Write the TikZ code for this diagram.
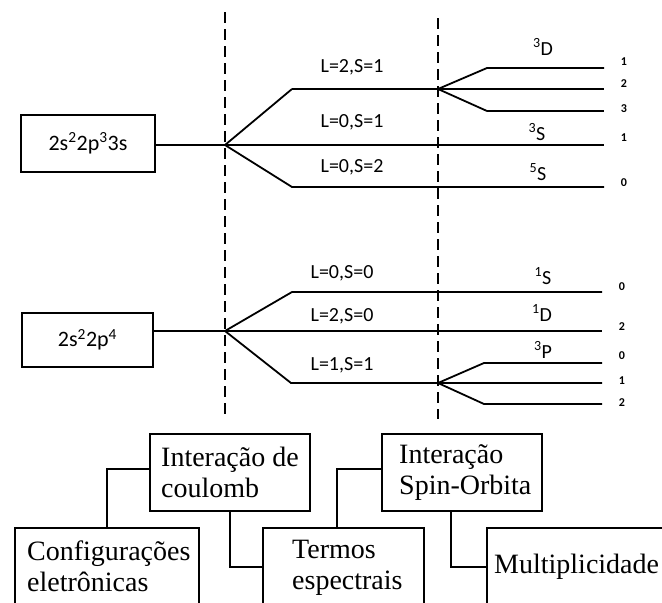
\documentclass[tikz,border=0pt]{standalone}
\usepackage{fontspec}
\setmainfont{Liberation Serif}
\newfontfamily\lblfont{Carlito}
\begin{document}
\begin{tikzpicture}[x=1pt,y=-1pt,
  level/.style={line width=1.8pt},
  heavy/.style={line width=2.8pt},
  guide/.style={line width=2.5pt, dash pattern=on 11pt off 6pt},
  cfgbox/.style={draw, line width=2.4pt, inner sep=0pt},
  lterm/.style={font=\lblfont\fontsize{20}{22}\selectfont, inner sep=0pt},
  sterm/.style={font=\lblfont\fontsize{20}{22}\selectfont, inner sep=0pt},
  jval/.style={font=\lblfont\bfseries\fontsize{12}{13}\selectfont, inner sep=0pt},
  infobox/.style={draw, line width=2.2pt, inner sep=0pt, minimum height=78pt},
  infotext/.style={font=\fontsize{28}{31}\selectfont, align=left, inner sep=0pt, anchor=west},
  link/.style={line width=1.6pt}]
\useasboundingbox (0,0) rectangle (662,603);
\clip (0,0) rectangle (662,603);

% dashed separators between the three stages
\coordinate (d1t) at (225,12);
\coordinate (d1b) at (225,419);
\coordinate (d2t) at (438,18);
\coordinate (d2b) at (438,419);
\draw[guide] (d1t) -- (d1b);
\draw[guide] (d2t) -- (d2b);

% electronic configurations
\node[cfgbox, minimum width=134pt, minimum height=57pt,
      font=\lblfont\fontsize{22}{24}\selectfont] (cfgA) at (88,143.5)
      {2s\textsuperscript{2}2p\textsuperscript{3}3s};
\node[cfgbox, minimum width=131pt, minimum height=54pt,
      font=\lblfont\fontsize{22}{24}\selectfont] (cfgB) at (87.5,340)
      {2s\textsuperscript{2}2p\textsuperscript{4}};

% splitting points
\coordinate (c1) at (225,145);
\coordinate (c2) at (225,331);
\coordinate (s1) at (438,89);
\coordinate (s2) at (438,383);

% upper configuration: 2s2 2p3 3s
\coordinate (a1) at (292,89);
\coordinate (a2) at (292,187);
\coordinate (e21) at (604,89);
\coordinate (e01) at (604,145);
\coordinate (e02) at (604,187);
\coordinate (sa) at (487,68);
\coordinate (sb) at (487,111);
\coordinate (ea) at (604,68);
\coordinate (eb) at (604,111);
\draw[level] (c1 -| cfgA.east) -- (c1);
\draw[level] (c1) -- (a1);
\draw[heavy] (a1) -- (s1) -- (e21);
\draw[level] (c1) -- (e01);
\draw[level] (c1) -- (a2) -- (e02);
\draw[level] (s1) -- (sa) -- (ea);
\draw[level] (s1) -- (sb);
\draw[heavy] (sb) -- (eb);

\node[lterm] (l21) at (352,67) {L=2,S=1};
\node[lterm] (l01) at (352,122) {L=0,S=1};
\node[lterm] (l02) at (352,167) {L=0,S=2};
\node[sterm] (t3D) at (543,47) {\textsuperscript{3}D};
\node[sterm] (t3S) at (537,132) {\textsuperscript{3}S};
\node[sterm] (t5S) at (538,172) {\textsuperscript{5}S};
\node[jval] (ja) at (624,62) {1};
\node[jval] (jb) at (624,84) {2};
\node[jval] (jc) at (624,109) {3};
\node[jval] (jd) at (624,138) {1};
\node[jval] (je) at (624,183) {0};

% lower configuration: 2s2 2p4
\coordinate (b1) at (292,292);
\coordinate (b2) at (291,383);
\coordinate (f00) at (602,292);
\coordinate (f20) at (602,331);
\coordinate (f11) at (602,383);
\coordinate (sc) at (484,363);
\coordinate (sd) at (484,404);
\coordinate (fc) at (602,363);
\coordinate (fd) at (602,404);
\draw[level] (c2 -| cfgB.east) -- (c2);
\draw[level] (c2) -- (b1) -- (f00);
\draw[level] (c2) -- (f20);
\draw[level] (c2) -- (b2) -- (s2) -- (f11);
\draw[level] (s2) -- (sc) -- (fc);
\draw[level] (s2) -- (sd) -- (fd);

\node[lterm] (l00) at (342,273) {L=0,S=0};
\node[lterm] (l20) at (342,316) {L=2,S=0};
\node[lterm] (l11) at (342,365) {L=1,S=1};
\node[sterm] (t1S) at (543,276) {\textsuperscript{1}S};
\node[sterm] (t1D) at (542,313) {\textsuperscript{1}D};
\node[sterm] (t3P) at (543,350) {\textsuperscript{3}P};
\node[jval] (jf) at (622,287) {0};
\node[jval] (jg) at (622,327) {2};
\node[jval] (jh) at (622,356) {0};
\node[jval] (ji) at (622,381) {1};
\node[jval] (jj) at (622,403) {2};

% legend boxes
\node[infobox, minimum width=160pt, minimum height=77pt] (coul) at (230,472.5) {};
\node[infotext] (coultxt) at (161,472.5) {Interação de\\coulomb};
\node[infobox, minimum width=160pt, minimum height=77pt] (spin) at (462,472.5) {};
\node[infotext] (spintxt) at (399,472.5) {Interação\\Spin-Orbita};
\node[infobox, minimum width=184pt] (conf) at (107,567) {};
\node[infotext] (conftxt) at (27,566) {Configurações\\eletrônicas};
\node[infobox, minimum width=161pt] (term) at (343.5,567) {};
\node[infotext] (termtxt) at (292,567.5) {Termos\\espectrais};
\node[infobox, minimum width=193pt] (mult) at (583.5,567) {};
\node[infotext] (multtxt) at (494,567) {Multiplicidade};

% legend connectors
\draw[link] ([yshift=3.5pt]coul.west) -| (conf.north);
\draw[link] (coul.south) |- (term.west);
\draw[link] ([yshift=3.5pt]spin.west) -| ([xshift=-6.5pt]term.north);
\draw[heavy] ([xshift=-11pt]spin.south) |- (mult.west);
\end{tikzpicture}
\end{document}
